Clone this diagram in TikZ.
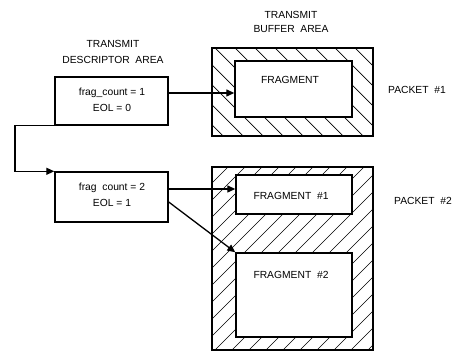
\documentclass[tikz,border=0pt]{standalone}
\usepackage{fontspec}
\setmainfont{Liberation Sans}
\usetikzlibrary{arrows.meta}
\begin{document}
\begin{tikzpicture}[x=1pt,y=-1pt,
  txt/.style={font=\fontsize{10.3}{12}\selectfont, inner sep=0pt},
  desc/.style={draw, line width=1.4pt, minimum width=113pt, inner sep=0pt},
  outerbox/.style={draw, line width=1.4pt, inner sep=0pt},
  frag/.style={draw, line width=1.4pt, fill=white, inner sep=0pt, minimum width=116pt},
  hatch/.style={line width=0.7pt},
  conn/.style={line width=1.3pt},
  arr/.style={conn, -{Triangle[length=8pt,width=7pt]}}
]
\useasboundingbox (0,0) rectangle (456,352);

% headers
\node[txt] (h1a) at (113,44) {TRANSMIT};
\node[txt] (h1b) at (113,60) {DESCRIPTOR\ \ AREA};
\node[txt] (h2a) at (291,15) {TRANSMIT};
\node[txt] (h2b) at (291,29) {BUFFER\ \ AREA};

% descriptor boxes
\node[desc, minimum height=48pt] (d1) at (111.5,101) {};
\node[txt] (d1t1) at (112,93) {frag\_count = 1};
\node[txt] (d1t2) at (112,108) {EOL = 0};
\node[desc, minimum height=50pt] (d2) at (111.5,197) {};
\node[txt] (d2t1) at (112,188) {frag\ \ count = 2};
\node[txt] (d2t2) at (112,203) {EOL = 1};

% packet 1 buffer
\node[outerbox, minimum width=161pt, minimum height=88pt] (p1) at (292.5,92) {};
\begin{scope}
  \clip (212,48) rectangle (373,136);
  \foreach \k in {-12,...,10} {
    \draw[hatch] ({235+20*\k-120},{48-120}) -- ({235+20*\k+250},{48+250});
  }
\end{scope}
\draw[line width=1.4pt] (p1.north west) rectangle (p1.south east);
\node[frag, minimum height=56pt, minimum width=117pt] (f1) at (293.5,89) {};
\node[txt] (f1t) at (290,80) {FRAGMENT};

% packet 2 buffer
\node[outerbox, minimum width=161pt, minimum height=183pt] (p2) at (292.5,258.5) {};
\begin{scope}
  \clip (212,167) rectangle (373,350);
  \foreach \k in {-4,...,24} {
    \draw[hatch] ({228+17*\k+60},{167-60}) -- ({228+17*\k-260},{167+260});
  }
\end{scope}
\draw[line width=1.4pt] (p2.north west) rectangle (p2.south east);
\node[frag, minimum height=39pt] (f21) at (294,194.5) {};
\node[txt] (f21t) at (291,196) {FRAGMENT\ \ \#1};
\node[frag, minimum height=84pt] (f22) at (294,295) {};
\node[txt] (f22t) at (291,275) {FRAGMENT\ \ \#2};

% packet labels
\node[txt, anchor=west] (pk1) at (388,90) {PACKET\ \ \#1};
\node[txt, anchor=west] (pk2) at (394,201) {PACKET\ \ \#2};

% connectors
\coordinate (a1) at ([yshift=8pt]d1.east);
\draw[arr] (a1) -- (a1 -| f1.west);
\coordinate (k) at (15,150);
\draw[arr] (d1.south west) -| (k) |- (d2.north west);
\coordinate (b1) at ([yshift=8pt]d2.east);
\draw[arr] (b1) -- (b1 -| f21.west);
\coordinate (b2) at ([yshift=-5pt]d2.east);
\draw[arr] (b2) -- (f22.north west);
\end{tikzpicture}
\end{document}
